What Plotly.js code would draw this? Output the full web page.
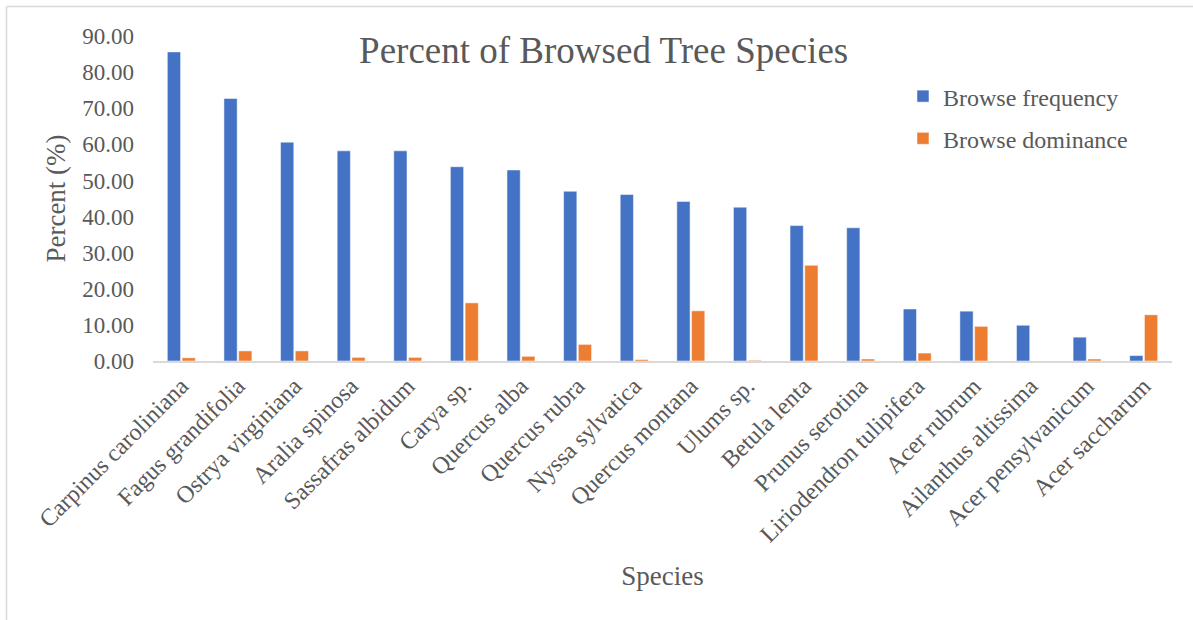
<!DOCTYPE html>
<html>
<head>
<meta charset="utf-8">
<script src="https://cdn.plot.ly/plotly-3.0.1.min.js"></script>
<style>html,body{margin:0;padding:0;background:#fff;}#chart{width:1193px;height:620px;}</style>
</head>
<body>
<div id="chart"></div>
<script>
var species = ["Carpinus caroliniana","Fagus grandifolia","Ostrya virginiana","Aralia spinosa","Sassafras albidum","Carya sp.","Quercus alba","Quercus rubra","Nyssa sylvatica","Quercus montana","Ulums sp.","Betula lenta","Prunus serotina","Liriodendron tulipifera","Acer rubrum","Ailanthus altissima","Acer pensylvanicum","Acer saccharum"];
var browseFrequency = [85.6, 72.7, 60.6, 58.2, 58.2, 53.8, 52.9, 47.0, 46.1, 44.2, 42.6, 37.5, 36.9, 14.4, 13.8, 9.9, 6.6, 1.5];
var browseDominance = [0.9, 2.8, 2.8, 1.0, 1.0, 16.1, 1.3, 4.6, 0.4, 13.9, 0.2, 26.5, 0.55, 2.2, 9.6, 0, 0.55, 12.8];
var yTicks = [0,10,20,30,40,50,60,70,80,90];

var FONT = "'Liberation Serif','Times New Roman',serif";
var TXT = "#595959";

var traces = [
  {type:'bar', name:'Browse frequency', x:species, y:browseFrequency, legendgroup:'a',
   marker:{color:'#4472C4', line:{color:'#ffffff', width:0.5}}},
  {type:'bar', name:'Browse dominance', x:species, y:browseDominance, legendgroup:'b',
   marker:{color:'#ED7D31', line:{color:'#ffffff', width:0.5}}}
];

var layout = {
  width:1193, height:620,
  margin:{l:153, r:21, t:36, b:259},
  paper_bgcolor:'#ffffff', plot_bgcolor:'#ffffff',
  font:{family:FONT, color:TXT, size:23},
  title:{text:'Percent of Browsed Tree Species', font:{family:FONT, size:37, color:TXT},
         x:0.506, xanchor:'center', y:1-50/620, yanchor:'middle', xref:'container', yref:'container'},
  barmode:'group', bargap:0.48, bargroupgap:0.1,
  showlegend:true,
  legend:{x:0.736, y:0.883, xanchor:'left', yanchor:'top', font:{family:FONT, size:24, color:TXT},
          traceorder:'grouped', tracegroupgap:8, bgcolor:'rgba(0,0,0,0)'},
  xaxis:{type:'category', tickangle:-45, showgrid:false, zeroline:false,
         showline:true, linecolor:'#d9d9d9', linewidth:1.5, ticks:'',
         tickfont:{family:FONT, size:24, color:TXT},
         title:{text:'Species', font:{family:FONT, size:27, color:TXT}, standoff:20}},
  yaxis:{range:[0,90], tickvals:yTicks, tickformat:'.2f', showgrid:false, zeroline:false,
         showline:false, ticks:'', ticklabelstandoff:18,
         tickfont:{family:FONT, size:23, color:TXT},
         title:{text:'Percent (%)', font:{family:FONT, size:27, color:TXT}, standoff:8}},
  shapes:[
    {type:'line', xref:'paper', yref:'paper', x0:(6.5-153)/1019, x1:(1193-153)/1019, y0:(361-6.5)/325, y1:(361-6.5)/325, line:{color:'#d9d9d9', width:1.5}},
    {type:'line', xref:'paper', yref:'paper', x0:(6.5-153)/1019, x1:(6.5-153)/1019, y0:(361-6.5)/325, y1:(361-620)/325, line:{color:'#d9d9d9', width:1.5}}
  ]
};

Plotly.newPlot('chart', traces, layout, {displayModeBar:false, staticPlot:true});
</script>
</body>
</html>
